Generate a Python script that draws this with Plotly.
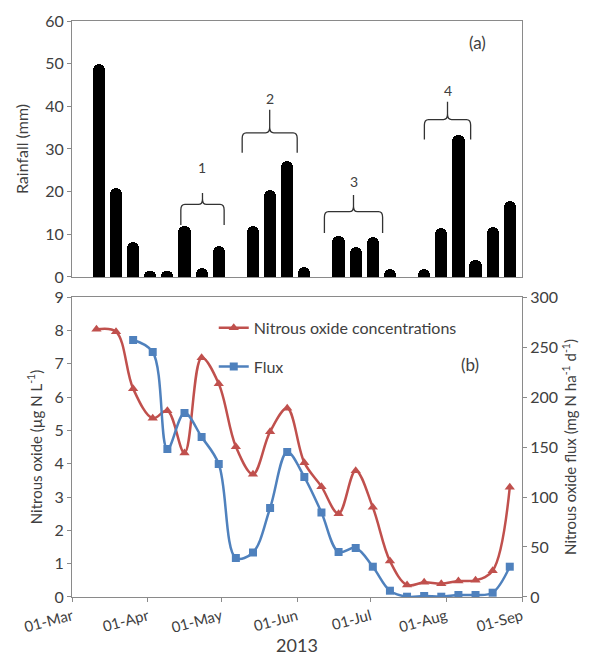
import plotly.graph_objects as go
import pandas as pd

# ---------------- data ----------------
rain_dates = ["2013-03-12", "2013-03-19", "2013-03-26", "2013-04-02", "2013-04-09",
              "2013-04-16", "2013-04-23", "2013-04-30", "2013-05-14", "2013-05-21",
              "2013-05-28", "2013-06-04", "2013-06-18", "2013-06-25", "2013-07-02",
              "2013-07-09", "2013-07-23", "2013-07-30", "2013-08-06", "2013-08-13",
              "2013-08-20", "2013-08-27"]
rainfall_mm = [50, 20.8, 8.2, 1.4, 1.4, 12.0, 2.0, 7.3, 11.9, 20.5, 27.2, 2.4,
               9.6, 7.0, 9.4, 1.9, 1.9, 11.4, 33.2, 3.9, 11.6, 17.7]

conc_dates = ["2013-03-11", "2013-03-19", "2013-03-26", "2013-04-03", "2013-04-09",
              "2013-04-16", "2013-04-23", "2013-04-30", "2013-05-07", "2013-05-14",
              "2013-05-21", "2013-05-28", "2013-06-04", "2013-06-11", "2013-06-18",
              "2013-06-25", "2013-07-02", "2013-07-09", "2013-07-16", "2013-07-23",
              "2013-07-30", "2013-08-06", "2013-08-13", "2013-08-20", "2013-08-27"]
n2o_conc = [8.03, 7.96, 6.25, 5.36, 5.59, 4.32, 7.18, 6.40, 4.51, 3.68, 4.96, 5.66,
            4.03, 3.31, 2.50, 3.79, 2.69, 1.08, 0.36, 0.44, 0.40, 0.48, 0.50, 0.79, 3.29]

flux_dates = conc_dates[2:]
n2o_flux = [257, 245, 148, 184, 160, 133, 39, 44.5, 89, 145, 120, 84.5, 45, 49,
            30.3, 6.3, 0.3, 1.0, 0.3, 2.0, 2.0, 4.3, 30.3]

# rainfall event groups marked with braces: label, first day, last day
brace_labels = ["1", "2", "3", "4"]
brace_start = ["2013-04-14 12:00", "2013-05-09 14:00", "2013-06-12 05:00", "2013-07-23 02:00"]
brace_end = ["2013-05-02 05:00", "2013-06-01 02:00", "2013-07-06 00:00", "2013-08-11 00:00"]
brace_bottom = [12.2, 29.1, 10.3, 32.2]
brace_top = [17.0, 33.8, 15.3, 36.9]
brace_tip = [19.7, 39.2, 19.2, 41.1]
brace_text_y = [25.6, 41.8, 22.4, 43.6]

# ---------------- style ----------------
FONT = "Lato"
TXT = "#404040"
AX = "#8a8a8a"
RED = "#C0504D"
BLUE = "#4F81BD"
DAY_MS = 86400000

fig = go.Figure()

fig.add_trace(go.Bar(
    x=rain_dates, y=rainfall_mm, xaxis="x2", yaxis="y3",
    marker=dict(color="black", cornerradius="50%", line=dict(width=0)),
    width=5.0 * DAY_MS, showlegend=False))

fig.add_trace(go.Scatter(
    x=conc_dates, y=n2o_conc, xaxis="x", yaxis="y", name="Nitrous oxide concentrations",
    mode="lines+markers", line=dict(color=RED, width=2.5, shape="spline", smoothing=1.0),
    marker=dict(symbol="triangle-up", size=9, color=RED), legendgroup="a"))

fig.add_trace(go.Scatter(
    x=flux_dates, y=n2o_flux, xaxis="x", yaxis="y2", name="Flux",
    mode="lines+markers", line=dict(color=BLUE, width=2.5, shape="spline", smoothing=1.0),
    marker=dict(symbol="square", size=8, color=BLUE), legendgroup="b"))

# braces
def fmt(t):
    return t.strftime("%Y-%m-%d_%H:%M:%S")

for lab, s, e, yb, yh, yt, ty in zip(brace_labels, brace_start, brace_end,
                                     brace_bottom, brace_top, brace_tip, brace_text_y):
    xl, xr = pd.Timestamp(s), pd.Timestamp(e)
    xm = xl + (xr - xl) / 2
    d = pd.Timedelta(hours=40)
    c = 1.3
    path = (f"M {fmt(xl)},{yb} L {fmt(xl)},{yh - c} "
            f"Q {fmt(xl)},{yh} {fmt(xl + d)},{yh} "
            f"L {fmt(xm - d)},{yh} Q {fmt(xm)},{yh} {fmt(xm)},{yh + c} "
            f"L {fmt(xm)},{yt} M {fmt(xm)},{yh + c} "
            f"Q {fmt(xm)},{yh} {fmt(xm + d)},{yh} "
            f"L {fmt(xr - d)},{yh} Q {fmt(xr)},{yh} {fmt(xr)},{yh - c} "
            f"L {fmt(xr)},{yb}")
    fig.add_shape(type="path", path=path, xref="x2", yref="y3",
                  line=dict(color="#333333", width=1.3))
    fig.add_annotation(x=xm.strftime("%Y-%m-%d %H:%M:%S"), y=ty, xref="x2", yref="y3",
                       text=lab, showarrow=False,
                       font=dict(family=FONT, size=14, color=TXT))

fig.add_annotation(x=0.902, y=0.9635, xref="paper", yref="paper", text="(a)",
                   xanchor="center", yanchor="middle",
                   showarrow=False, font=dict(family=FONT, size=17, color=TXT))
fig.add_annotation(x=0.884, y=0.4045, xref="paper", yref="paper", text="(b)",
                   xanchor="center", yanchor="middle",
                   showarrow=False, font=dict(family=FONT, size=17, color=TXT))

tickfont = dict(family=FONT, size=16, color=TXT)
xrange = ["2013-03-01", "2013-09-01"]

# the page adds an 8px body margin, so the figure is 8px smaller than the window
fig.update_layout(
    width=581, height=649,
    margin=dict(l=64, r=67, t=13, b=60),
    paper_bgcolor="white", plot_bgcolor="white",
    font=dict(family=FONT, color=TXT),
    showlegend=True,
    legend=dict(x=0.315, y=0.497, xanchor="left", yanchor="top",
                bgcolor="rgba(0,0,0,0)", font=dict(family=FONT, size=16, color=TXT),
                tracegroupgap=15, traceorder="grouped"),
    xaxis=dict(domain=[0, 1], anchor="y", type="date", range=xrange, automargin=False,
               tickvals=["2013-03-01", "2013-04-01", "2013-05-01", "2013-06-01",
                         "2013-07-01", "2013-08-01", "2013-09-01"],
               tickformat="%d-%b", tickangle=-15, tickfont=dict(family=FONT, size=15, color=TXT),
               showline=True, linecolor=AX, linewidth=1, mirror=True,
               ticks="outside", ticklen=4, tickcolor=AX, showgrid=False, zeroline=False,
               title=dict(text="2013", font=dict(family=FONT, size=18, color=TXT), standoff=0)),
    yaxis=dict(domain=[0, 0.5208], anchor="x", range=[0, 9], dtick=1, automargin=False,
               tickfont=tickfont, showline=True, linecolor=AX, linewidth=1,
               ticks="outside", ticklen=4, tickcolor=AX, showgrid=False, zeroline=False,
               title=dict(text="Nitrous oxide (µg N L<sup>-1</sup>)",
                          font=dict(family=FONT, size=15, color=TXT), standoff=8)),
    yaxis2=dict(overlaying="y", side="right", anchor="x", range=[0, 300], dtick=50,
                automargin=False,
                tickfont=tickfont, showline=True, linecolor=AX, linewidth=1,
                ticks="outside", ticklen=4, tickcolor=AX, showgrid=False, zeroline=False,
                title=dict(text="Nitrous oxide flux (mg N ha<sup>-1</sup> d<sup>-1</sup>)",
                           font=dict(family=FONT, size=15, color=TXT), standoff=8)),
    xaxis2=dict(domain=[0, 1], anchor="y3", type="date", range=xrange, automargin=False,
                showticklabels=False, ticks="", showline=True, linecolor=AX,
                linewidth=1, mirror=True, showgrid=False, zeroline=False),
    yaxis3=dict(domain=[0.5556, 1], anchor="x2", range=[0, 60], dtick=10, automargin=False,
                tickfont=tickfont, showline=True, linecolor=AX, linewidth=1, mirror=True,
                ticks="outside", ticklen=4, tickcolor=AX, showgrid=False, zeroline=False,
                title=dict(text="Rainfall (mm)", font=dict(family=FONT, size=16, color=TXT),
                           standoff=12)),
    bargap=0,
)

fig.write_html("out.html")
